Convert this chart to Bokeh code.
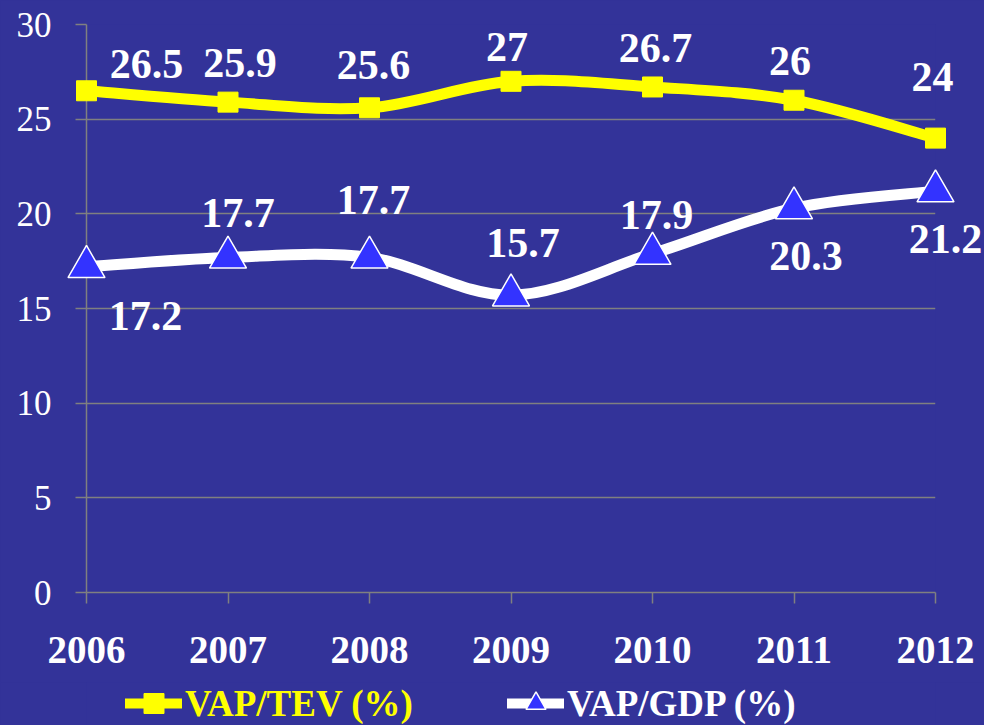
from bokeh.plotting import figure
from bokeh.layouts import column
from bokeh.models import ColumnDataSource, Legend, LegendItem, FixedTicker, Range1d
from bokeh.embed import file_html
from bokeh.resources import INLINE
from bokeh.core.properties import value

# ---- data ----
years = [2006, 2007, 2008, 2009, 2010, 2011, 2012]
vap_tev = [26.5, 25.9, 25.6, 27, 26.7, 26, 24]
vap_gdp = [17.2, 17.7, 17.7, 15.7, 17.9, 20.3, 21.2]
y_ticks = [0, 5, 10, 15, 20, 25, 30]
series_names = ["VAP/TEV (%)", "VAP/GDP (%)"]

# ---- label placement (pixel offsets, style only; +dy = downwards) ----
tev_dx = [60, 12, 4, -4, 3, -4, -3]
tev_dy = [-27, -39, -43, -34, -39, -39, -61]
gdp_dx = [59, 10, 4, 12, 4, 12, 10]
gdp_dy = [49, -44, -57, -52, -39, 48, 48]

BG = "#333399"
GRID = "#808080"
YELLOW = "#FFFF00"
WHITE = "#FFFFFF"
TRI = "#3333FF"
FONT = "Liberation Serif"


def smooth_segments(xs, ys):
    """Bezier control points (Catmull-Rom style) for a smoothed line."""
    n = len(xs)
    d = dict(x0=[], y0=[], x1=[], y1=[], cx0=[], cy0=[], cx1=[], cy1=[])
    for i in range(n - 1):
        xp, yp = (xs[i - 1], ys[i - 1]) if i > 0 else (xs[i], ys[i])
        xn, yn = (xs[i + 2], ys[i + 2]) if i + 2 < n else (xs[i + 1], ys[i + 1])
        d["x0"].append(xs[i]); d["y0"].append(ys[i])
        d["x1"].append(xs[i + 1]); d["y1"].append(ys[i + 1])
        d["cx0"].append(xs[i] + (xs[i + 1] - xp) / 6.0)
        d["cy0"].append(ys[i] + (ys[i + 1] - yp) / 6.0)
        d["cx1"].append(xs[i + 1] - (xn - xs[i]) / 6.0)
        d["cy1"].append(ys[i + 1] - (yn - ys[i]) / 6.0)
    return ColumnDataSource(d)


# ---------------- main chart ----------------
p = figure(width=984, height=682, output_backend="svg", toolbar_location=None,
           x_range=Range1d(years[0], years[-1]), y_range=Range1d(y_ticks[0], y_ticks[-1]),
           min_border_left=86, min_border_right=49, min_border_top=24, min_border_bottom=90)
p.background_fill_color = BG
p.border_fill_color = BG
p.outline_line_color = None

p.xaxis.ticker = FixedTicker(ticks=years)
p.yaxis.ticker = FixedTicker(ticks=y_ticks)
for ax in (p.xaxis[0], p.yaxis[0]):
    ax.axis_line_color = GRID
    ax.axis_line_width = 1.5
    ax.major_tick_line_color = GRID
    ax.major_tick_line_width = 1.5
    ax.major_tick_out = 11
    ax.major_tick_in = 0
    ax.minor_tick_line_color = None
    ax.major_label_text_color = WHITE
    ax.major_label_text_font = FONT
p.xaxis.major_label_text_font_size = "39px"
p.xaxis.major_label_text_font_style = "bold"
p.xaxis.major_label_standoff = 33
p.yaxis.major_label_text_font_size = "35px"
p.yaxis.major_label_text_font_style = "normal"
p.yaxis.major_label_standoff = 24

p.xgrid.grid_line_color = None
p.ygrid.grid_line_color = GRID
p.ygrid.grid_line_width = 1.5

src_tev = smooth_segments(years, vap_tev)
src_gdp = smooth_segments(years, vap_gdp)
p.bezier(x0="x0", y0="y0", x1="x1", y1="y1", cx0="cx0", cy0="cy0", cx1="cx1", cy1="cy1",
         source=src_tev, line_color=YELLOW, line_width=11, line_cap="round")
p.bezier(x0="x0", y0="y0", x1="x1", y1="y1", cx0="cx0", cy0="cy0", cx1="cx1", cy1="cy1",
         source=src_gdp, line_color=WHITE, line_width=11, line_cap="round")

p.scatter(x=years, y=vap_tev, marker="square", size=20, fill_color=YELLOW, line_color=YELLOW,
          level="overlay")
p.scatter(x=years, y=vap_gdp, marker="triangle", size=37, fill_color=TRI,
          line_color=WHITE, line_width=1.5, level="overlay")

src_lab1 = ColumnDataSource(dict(x=years, y=vap_tev, t=[f"{v:g}" for v in vap_tev],
                                 dx=tev_dx, dy=tev_dy))
src_lab2 = ColumnDataSource(dict(x=years, y=vap_gdp, t=[f"{v:g}" for v in vap_gdp],
                                 dx=gdp_dx, dy=gdp_dy))
for s in (src_lab1, src_lab2):
    p.text(x="x", y="y", text="t", x_offset="dx", y_offset="dy", source=s,
           text_color=WHITE, text_font=value(FONT), text_font_style="bold",
           text_font_size="42px", text_align="center", text_baseline="middle",
           level="overlay")

# ---------------- legend strip ----------------
q = figure(width=984, height=43, output_backend="svg", toolbar_location=None,
           x_axis_type=None, y_axis_type=None, x_range=Range1d(0, 1), y_range=Range1d(0, 1),
           min_border=0, min_border_left=0, min_border_right=0, min_border_top=0,
           min_border_bottom=0)
q.background_fill_color = BG
q.border_fill_color = BG
q.outline_line_color = None
q.grid.visible = False

# legend-only renderers: placed outside the visible range
ql1 = q.line(x=[5, 6], y=[5, 5], line_color=YELLOW, line_width=10, line_cap="round")
qm1 = q.scatter(x=[5], y=[5], marker="square", size=20, fill_color=YELLOW, line_color=YELLOW)
ql2 = q.line(x=[5, 6], y=[5, 5], line_color=WHITE, line_width=10, line_cap="round")
qm2 = q.scatter(x=[5], y=[5], marker="triangle", size=21, fill_color=TRI, line_color=WHITE,
                line_width=1.5)

legend_cfg = dict(orientation="horizontal", padding=0, margin=0, spacing=0,
                  glyph_width=57, glyph_height=50, label_standoff=3,
                  label_text_font=FONT, label_text_font_style="bold",
                  label_text_font_size="37px", border_line_color=None,
                  background_fill_alpha=0)
leg1 = Legend(items=[LegendItem(label=series_names[0], renderers=[ql1, qm1])],
              location=(39, -3), label_text_color=YELLOW, **legend_cfg)
leg2 = Legend(items=[LegendItem(label=series_names[1], renderers=[ql2, qm2])],
              location=(421, -3), label_text_color=WHITE, **legend_cfg)
q.add_layout(leg1, "center")
q.add_layout(leg2, "center")

layout = column(p, q, spacing=0)

html = file_html(layout, INLINE)
i = html.rfind("<body")
if i >= 0:
    html = html[:i] + '<body style="background-color:#333399;"' + html[i + 5:]
open("out.html", "w").write(html)
